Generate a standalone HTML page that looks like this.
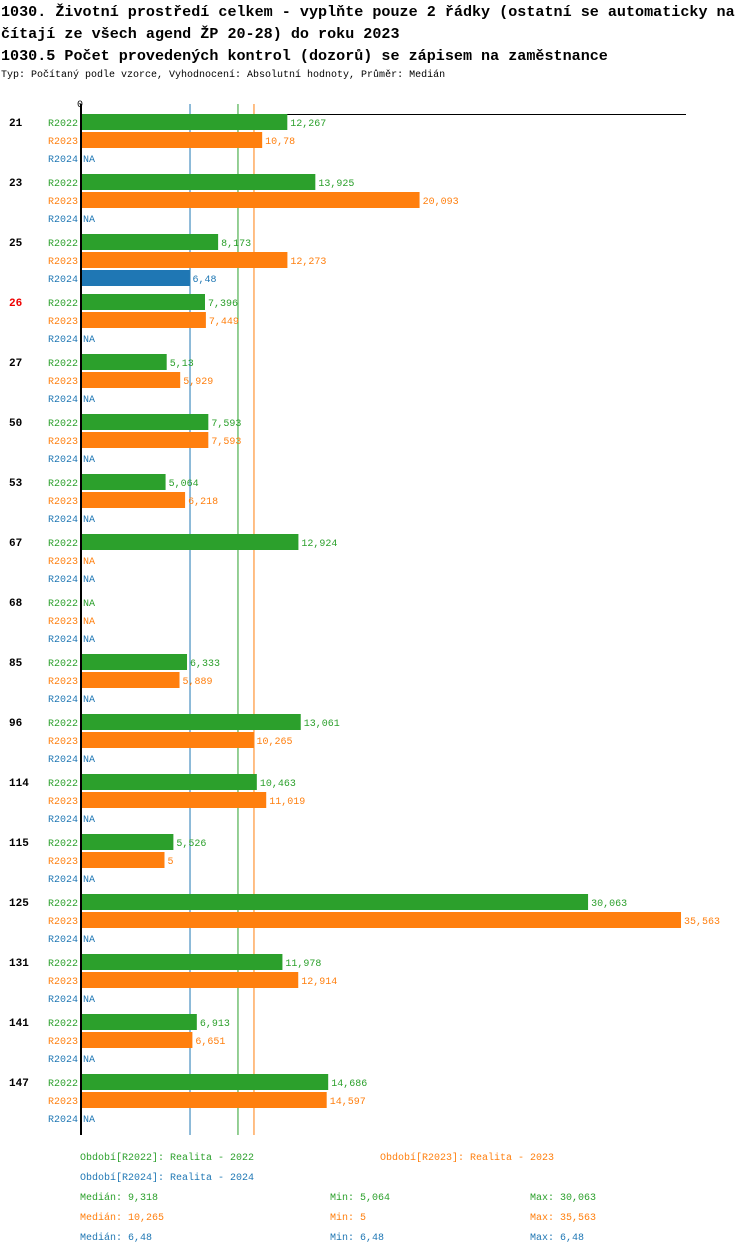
<!DOCTYPE html>
<html><head><meta charset="utf-8"><style>
body{margin:0;background:#fff;width:750px;height:1254px;overflow:hidden}
svg{display:block;font-family:"Liberation Mono",monospace}
</style></head><body>
<svg id="c" width="750" height="1254" xmlns="http://www.w3.org/2000/svg">
<text x="1" y="16" font-size="15.1" font-weight="bold">1030. Životní prostředí celkem - vyplňte pouze 2 řádky (ostatní se automaticky na</text>
<text x="1" y="38" font-size="15.1" font-weight="bold">čítají ze všech agend ŽP 20-28) do roku 2023</text>
<text x="1" y="60" font-size="15.1" font-weight="bold">1030.5 Počet provedených kontrol (dozorů) se zápisem na zaměstnance</text>
<text x="1" y="77" font-size="10">Typ: Počítaný podle vzorce, Vyhodnocení: Absolutní hodnoty, Průměr: Medián</text>
<text x="80" y="107" font-size="10" text-anchor="middle">0</text>
<line x1="80" y1="114.5" x2="686" y2="114.5" stroke="#000"/>
<g id="marks"></g>
<line x1="81" y1="104" x2="81" y2="1135" stroke="#000" stroke-width="2"/>
<g font-size="10">
<text x="80" y="1160" fill="#2ca02c">Období[R2022]: Realita - 2022</text>
<text x="380" y="1160" fill="#ff7f0e">Období[R2023]: Realita - 2023</text>
<text x="80" y="1180" fill="#1f77b4">Období[R2024]: Realita - 2024</text>
<text x="80" y="1200" fill="#2ca02c">Medián: 9,318</text>
<text x="330" y="1200" fill="#2ca02c">Min: 5,064</text>
<text x="530" y="1200" fill="#2ca02c">Max: 30,063</text>
<text x="80" y="1220" fill="#ff7f0e">Medián: 10,265</text>
<text x="330" y="1220" fill="#ff7f0e">Min: 5</text>
<text x="530" y="1220" fill="#ff7f0e">Max: 35,563</text>
<text x="80" y="1240" fill="#1f77b4">Medián: 6,48</text>
<text x="330" y="1240" fill="#1f77b4">Min: 6,48</text>
<text x="530" y="1240" fill="#1f77b4">Max: 6,48</text>
</g>
</svg>
<script>
const categories=["21","23","25","26","27","50","53","67","68","85","96","114","115","125","131","141","147"];
const seriesNames=["R2022","R2023","R2024"];
const r2022=[12.267,13.925,8.173,7.396,5.13,7.593,5.064,12.924,null,6.333,13.061,10.463,5.526,30.063,11.978,6.913,14.686];
const r2023=[10.78,20.093,12.273,7.449,5.929,7.593,6.218,null,null,5.889,10.265,11.019,5,35.563,12.914,6.651,14.597];
const r2024=[null,null,6.48,null,null,null,null,null,null,null,null,null,null,null,null,null,null];
const medians=[9.318,10.265,6.48];
const highlight="26";
const colors=["#2ca02c","#ff7f0e","#1f77b4"];
const series=[r2022,r2023,r2024];
const NS="http://www.w3.org/2000/svg";
const g=document.getElementById('marks');
const x=v=>80+v*16.9;
const groupY=i=>114+i*60;
function mk(t,a){const e=document.createElementNS(NS,t);for(const k in a)e.setAttribute(k,a[k]);g.appendChild(e);return e;}
const fmt=v=>String(v).replace('.',',');
medians.forEach((m,s)=>{
  const l=mk('line',{x1:x(m)+0.5,x2:x(m)+0.5,y1:104,y2:1135,stroke:colors[s],'stroke-width':1});
  
  
});
categories.forEach((c,i)=>{
  const gy=groupY(i);
  const ct=mk('text',{x:9,y:gy+12,'font-size':11,'font-weight':'bold',fill:c===highlight?'#e00':'#000'});
  ct.textContent=c;
  
  
  series.forEach((arr,s)=>{
    const y=gy+s*18;
    const sl=mk('text',{x:78,y:y+12,'font-size':10,'text-anchor':'end',fill:colors[s]});
    sl.textContent=seriesNames[s];
    
    
    const v=arr[i];
    let endX=82;
    if(v!=null){
      const r=mk('rect',{x:81,y:y,width:x(v)-81,height:16,fill:colors[s]});
      
      
      endX=x(v)+2;
    }
    const vt=mk('text',{x:endX+1,y:y+12,'font-size':10,fill:colors[s]});
    vt.textContent=v==null?'NA':fmt(v);
    
    
  });
});
</script>
</body></html>
